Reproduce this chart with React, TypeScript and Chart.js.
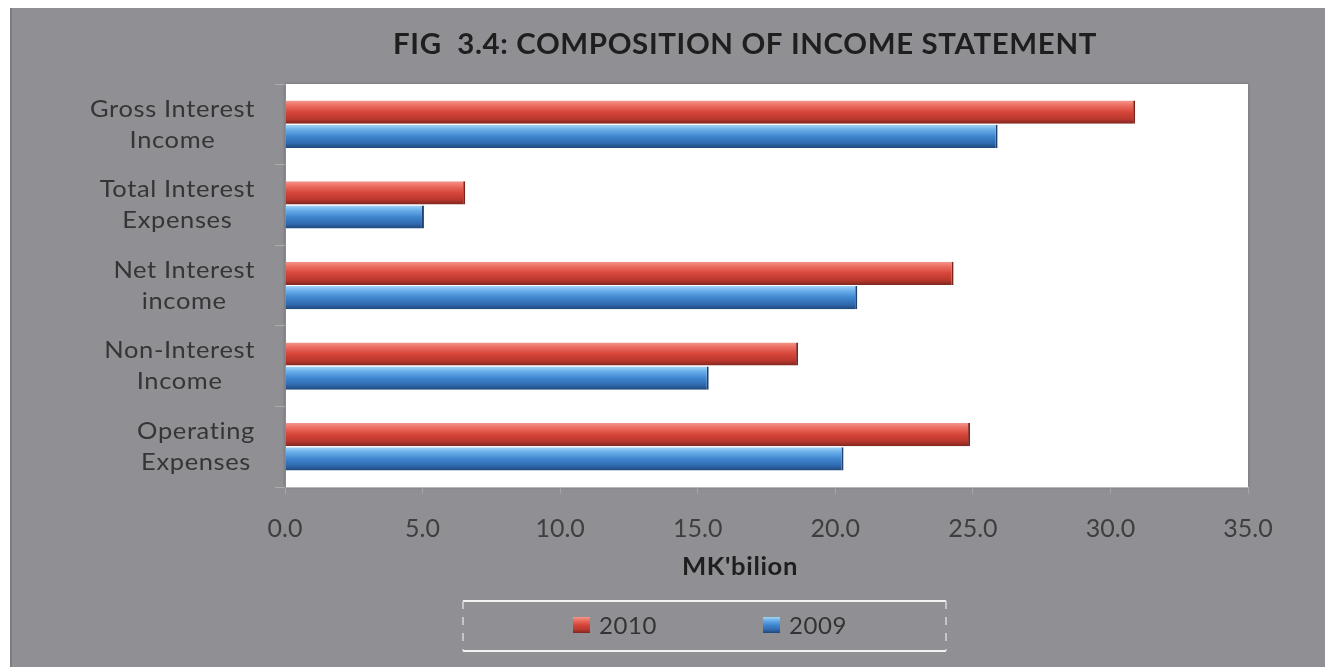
import React, { useEffect, useRef } from "react";
import { Chart, registerables } from "chart.js";

Chart.register(...registerables);

const categories: string[][] = [
  ["Gross Interest", "Income"],
  ["Total Interest", "Expenses"],
  ["Net Interest", "income"],
  ["Non-Interest", "Income"],
  ["Operating", "Expenses"],
];
const series2010: number[] = [30.9, 6.55, 24.3, 18.65, 24.9];
const series2009: number[] = [25.9, 5.05, 20.8, 15.4, 20.3];
const seriesLabels: string[] = ["2010", "2009"];
const titleText = "FIG  3.4: COMPOSITION OF INCOME STATEMENT";
const axisTitle = "MK'bilion";
const xMin = 0;
const xMax = 35;
const xStep = 5;

const CAT_PCT = 0.6;
const BAR_PCT = 0.96;

function barGradient(ctx: any, dsIndex: number, stops: [number, string][]) {
  const chart = ctx.chart;
  const y = chart.scales?.y;
  const fallback = stops[2][1];
  if (!y || ctx.dataIndex == null || !Number.isFinite(y.height) || y.height <= 0) return fallback;
  const n = categories.length;
  const catH = y.height / n;
  const slot = (catH * CAT_PCT) / 2;
  const thick = slot * BAR_PCT;
  const center = y.getPixelForValue(ctx.dataIndex);
  const c = center - slot + slot / 2 + dsIndex * slot;
  const y0 = c - thick / 2;
  const y1 = c + thick / 2;
  if (!Number.isFinite(y0) || !Number.isFinite(y1)) return fallback;
  const g = chart.ctx.createLinearGradient(0, y0, 0, y1);
  stops.forEach(([o, col]) => g.addColorStop(o, col));
  return g;
}

const redStops: [number, string][] = [
  [0, "#f4968c"],
  [0.2, "#ec6e62"],
  [0.5, "#d6453a"],
  [0.8, "#b8372d"],
  [1, "#7e2620"],
];
const blueStops: [number, string][] = [
  [0, "#a2d4f6"],
  [0.2, "#6cb0ea"],
  [0.5, "#3f86cf"],
  [0.8, "#2f69ad"],
  [1, "#1f4679"],
];

const FONT = "Lato, 'Open Sans', 'Liberation Sans', sans-serif";

function fitText(
  c: CanvasRenderingContext2D,
  text: string,
  x: number,
  y: number,
  font: string,
  targetW: number | null,
  align: "left" | "center" | "right",
  color: string
) {
  c.save();
  c.font = font;
  (c as any).letterSpacing = "0.6px";
  c.fillStyle = color;
  c.textBaseline = "middle";
  const w = c.measureText(text).width;
  const s = targetW && w > 0 ? targetW / w : 1;
  const drawnW = w * s;
  let left = x;
  if (align === "center") left = x - drawnW / 2;
  else if (align === "right") left = x - drawnW;
  c.translate(left, y);
  c.scale(s, 1);
  c.textAlign = "left";
  c.fillText(text, 0, 0);
  c.restore();
  return drawnW;
}

function measure(c: CanvasRenderingContext2D, text: string, font: string) {
  c.save();
  c.font = font;
  (c as any).letterSpacing = "0.6px";
  const w = c.measureText(text).width;
  c.restore();
  return w;
}

const decorPlugin = {
  id: "decor",
  beforeDraw(chart: any) {
    const c: CanvasRenderingContext2D = chart.ctx;
    const a = chart.chartArea;
    c.save();
    c.fillStyle = "#908f94";
    c.fillRect(0, 0, chart.width, chart.height);
    c.fillStyle = "#7c7b80";
    c.fillRect(0, 0, 2, chart.height);
    c.shadowColor = "rgba(0,0,0,0.25)";
    c.shadowBlur = 3;
    c.fillStyle = "#ffffff";
    c.fillRect(a.left, a.top, a.right - a.left, a.bottom - a.top);
    c.restore();
  },
  afterDraw(chart: any) {
    const c: CanvasRenderingContext2D = chart.ctx;
    const y = chart.scales.y;
    fitText(c, titleText, 735, 37, `bold 28px ${FONT}`, 704, "center", "#1e1e1e");
    const yFont = `24px ${FONT}`;
    const ref = measure(c, "Gross Interest", yFont);
    const sx = ref > 0 ? 165 / ref : 1;
    const rightEdge = 245;
    const lineH = 31;
    categories.forEach((lines, i) => {
      const widths = lines.map((l) => measure(c, l, yFont) * sx);
      const blockW = Math.max(...widths);
      const cx = rightEdge - blockW / 2;
      const center = y.getPixelForValue(i);
      lines.forEach((l, k) => {
        const ly = center + (k - (lines.length - 1) / 2) * lineH;
        fitText(c, l, cx, ly, yFont, widths[k], "center", "#353535");
      });
    });
    fitText(c, axisTitle, 730, 559, `bold 24px ${FONT}`, 116, "center", "#1e1e1e");
    const bx1 = 453, bx2 = 936, by1 = 593, by2 = 643;
    c.save();
    c.strokeStyle = "#f2f2f2";
    c.lineWidth = 2;
    c.beginPath();
    c.moveTo(bx1, by1);
    c.lineTo(bx2, by1);
    c.moveTo(bx1, by2);
    c.lineTo(bx2, by2);
    c.stroke();
    c.strokeStyle = "#d8d8d8";
    c.lineWidth = 1.5;
    c.setLineDash([8, 8]);
    c.beginPath();
    c.moveTo(bx1, by1);
    c.lineTo(bx1, by2);
    c.moveTo(bx2, by1);
    c.lineTo(bx2, by2);
    c.stroke();
    c.restore();
    const items = [
      { x: 563, tx: 589, stops: redStops, label: seriesLabels[0] },
      { x: 753, tx: 779, stops: blueStops, label: seriesLabels[1] },
    ];
    items.forEach((it) => {
      c.save();
      const g = c.createLinearGradient(0, 609, 0, 625);
      it.stops.forEach(([o, col]) => g.addColorStop(o, col));
      c.fillStyle = g;
      c.fillRect(it.x, 609, 17, 16);
      c.restore();
      fitText(c, it.label, it.tx, 618, `24px ${FONT}`, 58, "left", "#333333");
    });
  },
};

export default function App() {
  const ref = useRef<HTMLCanvasElement | null>(null);
  useEffect(() => {
    document.body.style.margin = "0";
    const canvas = ref.current!;
    const chart = new Chart(canvas, {
      type: "bar",
      data: {
        labels: categories,
        datasets: [
          {
            label: seriesLabels[0],
            data: series2010,
            backgroundColor: (ctx: any) => barGradient(ctx, 0, redStops),
            borderColor: "#7a2520",
            borderWidth: { right: 2, top: 0, bottom: 0, left: 0 },
            borderSkipped: false,
            categoryPercentage: CAT_PCT,
            barPercentage: BAR_PCT,
          },
          {
            label: seriesLabels[1],
            data: series2009,
            backgroundColor: (ctx: any) => barGradient(ctx, 1, blueStops),
            borderColor: "#1f4270",
            borderWidth: { right: 2, top: 0, bottom: 0, left: 0 },
            borderSkipped: false,
            categoryPercentage: CAT_PCT,
            barPercentage: BAR_PCT,
          },
        ],
      },
      options: {
        indexAxis: "y",
        responsive: false,
        animation: false,
        devicePixelRatio: 1,
        layout: { padding: { left: 0, right: 77, top: 76, bottom: 120 } },
        plugins: {
          legend: { display: false },
          title: { display: false },
          tooltip: { enabled: false },
        },
        scales: {
          x: {
            type: "linear",
            min: xMin,
            max: xMax,
            ticks: {
              stepSize: xStep,
              color: "#3e3e3e",
              font: { family: FONT, size: 25 },
              padding: 20,
              callback: (v: any) => Number(v).toFixed(1),
            },
            grid: {
              drawOnChartArea: false,
              drawTicks: true,
              tickLength: 7,
              color: "rgba(170,170,170,0.8)",
            },
            border: { display: true, color: "#b8b8b8", width: 1 },
            afterFit: (s: any) => {
              s.height = 60;
            },
          },
          y: {
            type: "category",
            ticks: { display: false },
            grid: {
              drawOnChartArea: false,
              drawTicks: true,
              tickLength: 10,
              color: "rgba(175,175,175,0.9)",
            },
            border: { display: true, color: "#8c8c8c", width: 1 },
            afterFit: (s: any) => {
              s.width = 275;
            },
          },
        },
      },
      plugins: [decorPlugin],
    } as any);
    chart.update();
    return () => chart.destroy();
  }, []);
  return (
    <div
      style={{
        width: 1325,
        height: 667,
        background: "#ffffff",
        paddingLeft: 10,
        paddingTop: 8,
        boxSizing: "border-box",
        overflow: "hidden",
      }}
    >
      <canvas ref={ref} width={1315} height={659} style={{ display: "block", width: 1315, height: 659 }} />
    </div>
  );
}
